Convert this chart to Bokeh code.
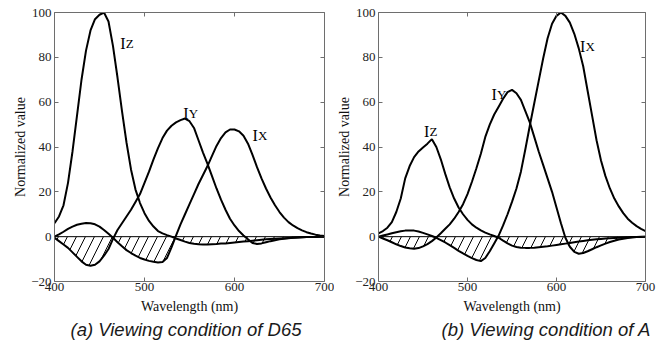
import numpy as np
from bokeh.plotting import figure
from bokeh.models import Range1d, LinearAxis, Span, Title, FixedTicker, ColumnDataSource
from bokeh.layouts import row
from bokeh.embed import file_html
from bokeh.resources import INLINE
from bokeh.core.properties import value

# ---------------- data ----------------
wavelength = list(range(400, 701, 5))

d65_iz = [6, 9, 14, 24, 38, 54, 70, 83, 92, 97, 99, 100, 96, 85, 71, 56, 42, 30, 21, 15,
          10.5, 7, 4.5, 2.5, 1.5, 0.7, 0, -0.8, -1.5, -2.2, -2.8, -3.2, -3.4, -3.5, -3.5,
          -3.4, -3.3, -3.1, -3.0, -2.8, -2.6, -2.4, -2.2, -2.0, -1.8, -1.6, -1.4, -1.2,
          -1.0, -0.9, -0.8, -0.7, -0.6, -0.5, -0.4, -0.3, -0.2, -0.15, -0.1, -0.05, 0]
d65_iy = [-0.5, -2, -3.5, -5, -7, -9, -11, -12.5, -13, -12.5, -11, -8.5, -5.5, -1, 3, 6,
          9, 12, 15.5, 19, 24, 29, 34.5, 39.5, 44, 47.3, 49.5, 51, 52, 52.7, 51.5, 48.5,
          43, 37.5, 32.5, 27, 21.5, 16.5, 12, 8, 5, 2.5, 0.5, -1.2, -2.8, -3.3, -3.0,
          -2.5, -2.0, -1.6, -1.2, -0.9, -0.7, -0.5, -0.4, -0.3, -0.2, -0.15, -0.1, -0.05, 0]
d65_ix = [0, 1, 2.2, 3.5, 4.5, 5.3, 5.8, 6.1, 6, 5.5, 4.5, 3, 1.3, -0.5, -2.5, -4.3, -6,
          -7.3, -8.5, -9.5, -10.2, -10.8, -11.2, -11.5, -11.3, -9.5, -4.8, 0.5, 5.5, 10,
          14.5, 19, 23.5, 27.5, 31.5, 36, 40.5, 44, 46.5, 47.8, 47.8, 47, 45, 41.5, 36.5,
          31, 26, 21.5, 17.5, 14, 11, 8.5, 6.5, 5, 3.8, 2.8, 2, 1.4, 0.9, 0.5, 0.3]

a_iz = [1.5, 2.5, 4, 6.5, 11, 17, 26, 31.5, 35.5, 38, 39.8, 41.5, 43.5, 40, 34.5, 28, 22,
        17, 13, 10, 7.5, 5.5, 4, 2.8, 1.8, 1, 0.3, -0.5, -1.8, -3, -4, -4.6, -4.9, -5, -5,
        -4.9, -4.7, -4.5, -4.3, -4.0, -3.7, -3.4, -3.1, -2.8, -2.5, -2.2, -1.9, -1.6, -1.4,
        -1.2, -1.0, -0.8, -0.7, -0.6, -0.5, -0.4, -0.3, -0.2, -0.1, -0.05, 0]
a_iy = [0, -0.8, -1.6, -2.5, -3.4, -4.2, -4.8, -5.2, -5.4, -5.1, -4.3, -3.3, -2, -0.4, 1.5,
        3.5, 5.5, 8, 11, 14.5, 19, 24.5, 30.5, 37, 44.5, 50, 54.5, 58, 61.5, 64.5, 65.5,
        64, 61, 56, 51, 44.5, 38, 32, 26, 20, 13, 6, -0.5, -4.5, -6.8, -7.6, -7.3, -6.5,
        -5.6, -4.7, -3.9, -3.1, -2.4, -1.8, -1.3, -0.9, -0.6, -0.4, -0.2, -0.1, 0]
a_ix = [0, 0.5, 1, 1.5, 2, 2.4, 2.7, 2.8, 2.7, 2.3, 1.7, 1, 0.3, -0.5, -1.5, -2.6, -3.8,
        -5, -6.3, -7.5, -8.6, -9.6, -10.4, -10.9, -9.5, -6.5, -3, 0.5, 5, 10, 15.5, 21.5,
        29, 39, 49.5, 59.5, 69.5, 79.5, 88.5, 95, 98.5, 100, 98.5, 95.5, 90.5, 84, 76,
        65, 54, 43, 34, 27, 21.5, 17, 13.5, 10.5, 8, 6.2, 4.7, 3.5, 2.5]

x_ticks = [400, 500, 600, 700]
y_ticks = [-20, 0, 20, 40, 60, 80, 100]
curve_letters = ["Z", "Y", "X"]
d65_label_x = [473, 543, 620]
d65_label_y = [86, 55, 45]
a_label_x = [451, 527, 626.5]
a_label_y = [47, 63.4, 84.8]
captions = ["(a) Viewing condition of D65", "(b) Viewing condition of A"]

AX_GRAY = "#6e6e6e"
SERIF = "Liberation Serif"


def style_axis(ax, ticks, show_labels):
    ax.ticker = FixedTicker(ticks=ticks)
    ax.axis_line_color = AX_GRAY
    ax.axis_line_width = 1
    ax.major_tick_line_color = AX_GRAY
    ax.major_tick_in = 4
    ax.major_tick_out = 0
    ax.minor_tick_line_color = None
    ax.major_label_text_font = SERIF
    ax.major_label_text_font_size = "13px"
    ax.major_label_text_color = "#222222"
    if not show_labels:
        ax.major_label_overrides = {t: "" for t in ticks}
        ax.major_label_standoff = 0


def make_panel(ix, iy, iz, lab_x, lab_y, caption, width, bl, br, cap_offset):
    p = figure(width=width, height=343, output_backend="svg", toolbar_location=None,
               x_range=Range1d(400, 700), y_range=Range1d(-20, 100),
               min_border_left=bl, min_border_right=br, min_border_top=12,
               min_border_bottom=62)
    p.grid.visible = False
    p.outline_line_color = None

    zeros = np.zeros(len(wavelength))
    lower = np.minimum.reduce([np.array(ix, float), np.array(iy, float),
                               np.array(iz, float), zeros])
    p.varea(x=wavelength, y1=lower, y2=zeros, fill_alpha=0, hatch_pattern="/",
            hatch_color="black", hatch_weight=1, hatch_scale=18)
    p.add_layout(Span(location=0, dimension="width", line_color="black", line_width=1))
    for ys in (ix, iy, iz):
        p.line(wavelength, ys, line_color="black", line_width=2)

    src = ColumnDataSource(dict(x=lab_x, y=lab_y, big=["I"] * 3, small=curve_letters))
    p.text(x="x", y="y", text="big", source=src, text_font=value(SERIF),
           text_font_size="16px", text_color="black", text_baseline="alphabetic")
    p.text(x="x", y="y", text="small", source=src, x_offset=5.5, text_font=value(SERIF),
           text_font_size="13px", text_color="black", text_baseline="alphabetic")

    for ax in p.xaxis:
        style_axis(ax, x_ticks, True)
    for ax in p.yaxis:
        style_axis(ax, y_ticks, True)
    p.yaxis.major_label_overrides = {-20: "\u221220"}
    p.xaxis.major_label_standoff = 1
    p.yaxis.major_label_standoff = 3
    p.xaxis.axis_label = "Wavelength (nm)"
    p.yaxis.axis_label = "Normalized value"
    for ax in p.xaxis + p.yaxis:
        ax.axis_label_text_font = SERIF
        ax.axis_label_text_font_style = "normal"
        ax.axis_label_text_font_size = "14px"
        ax.axis_label_text_color = "#111111"
    p.xaxis.axis_label_standoff = 5
    p.yaxis.axis_label_standoff = 0

    top = LinearAxis()
    right = LinearAxis()
    style_axis(top, x_ticks, False)
    style_axis(right, y_ticks, False)
    p.add_layout(top, "above")
    p.add_layout(right, "right")

    p.add_layout(Title(text=caption, align="left", offset=cap_offset, standoff=0,
                       text_font="Liberation Sans", text_font_style="italic",
                       text_font_size="18.5px", text_color="#1a1a1a"), "below")
    return p


p1 = make_panel(d65_ix, d65_iy, d65_iz, d65_label_x, d65_label_y, captions[0],
                334, 54, 10, 16)
p2 = make_panel(a_ix, a_iy, a_iz, a_label_x, a_label_y, captions[1],
                334, 43, 23, 63)

layout = row(p1, p2)
open("out.html", "w").write(file_html(layout, INLINE))
